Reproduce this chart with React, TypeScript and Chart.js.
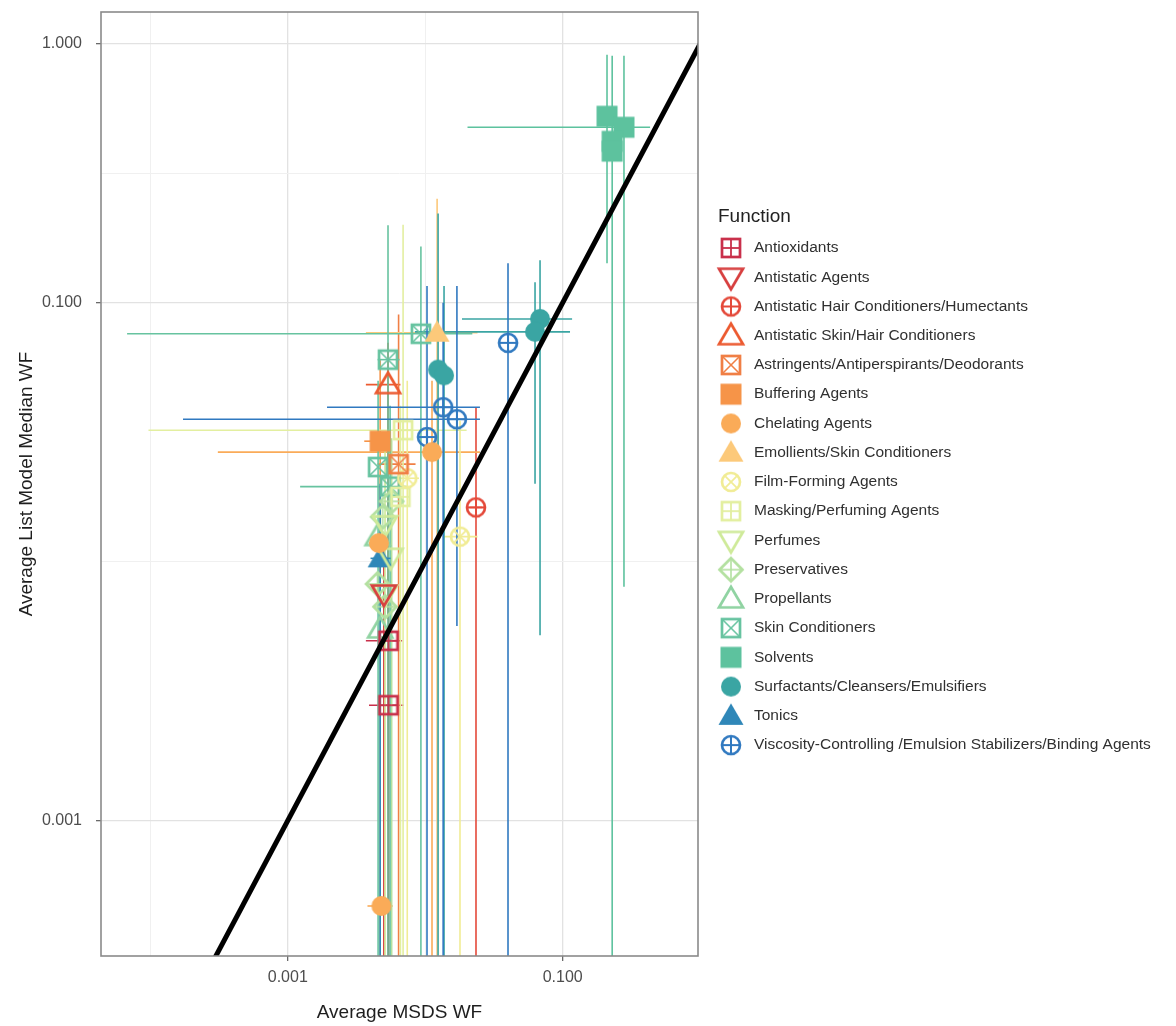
import React, { useEffect, useRef } from 'react';
import { Chart, registerables } from 'chart.js';

Chart.register(...registerables);

type Pt = { x: number; y: number; xMin?: number; xMax?: number; yMin?: number; yMax?: number };

// ---------------- data ----------------
const FUNCTIONS = [
  'Antioxidants',
  'Antistatic Agents',
  'Antistatic Hair Conditioners/Humectants',
  'Antistatic Skin/Hair Conditioners',
  'Astringents/Antiperspirants/Deodorants',
  'Buffering Agents',
  'Chelating Agents',
  'Emollients/Skin Conditioners',
  'Film-Forming Agents',
  'Masking/Perfuming Agents',
  'Perfumes',
  'Preservatives',
  'Propellants',
  'Skin Conditioners',
  'Solvents',
  'Surfactants/Cleansers/Emulsifiers',
  'Tonics',
  'Viscosity-Controlling /Emulsion Stabilizers/Binding Agents',
];

const COLORS = [
  '#C9304B', '#D73F3F', '#E4493A', '#EC5A30', '#F07F45', '#F69448',
  '#FAAB58', '#FCC97A', '#F1EC95', '#E3EFA0', '#CFEA9A', '#B3E0A0',
  '#90D3A2', '#67C3A0', '#5DC29E', '#3AA5A3', '#2F87B8', '#3079C0',
];

const SHAPES = [
  'squarePlus', 'triDown', 'circlePlus', 'triUp', 'squareCross', 'square',
  'circle', 'triFilled', 'circleCross', 'squarePlus', 'triDown', 'diamondPlus',
  'triUp', 'squareCross', 'square', 'circle', 'triFilled', 'circlePlus',
];

const antioxidants: Pt[] = [
  { x: 0.0054, y: 0.00495, xMin: 0.0037, xMax: 0.0068, yMin: 0.00001, yMax: 0.0078 },
  { x: 0.0054, y: 0.00279, xMin: 0.0039, xMax: 0.0070, yMin: 0.00001, yMax: 0.0045 },
];
const antistaticAgents: Pt[] = [
  { x: 0.0050, y: 0.0075, yMin: 0.00001, yMax: 0.011 },
];
const antistaticHair: Pt[] = [
  { x: 0.0234, y: 0.0162, xMin: 0.021, xMax: 0.026, yMin: 0.00001, yMax: 0.0395 },
];
const antistaticSkin: Pt[] = [
  { x: 0.00536, y: 0.0483, xMin: 0.0037, xMax: 0.0066, yMin: 0.006, yMax: 0.07 },
];
const astringents: Pt[] = [
  { x: 0.0064, y: 0.0238, xMin: 0.0045, xMax: 0.0085, yMin: 0.00001, yMax: 0.09 },
];
const buffering: Pt[] = [
  { x: 0.0047, y: 0.0292, xMin: 0.0036, xMax: 0.0052, yMin: 0.00001, yMax: 0.06 },
];
const chelating: Pt[] = [
  { x: 0.0112, y: 0.0265, xMin: 0.00031, xMax: 0.025, yMin: 0.00001, yMax: 0.05 },
  { x: 0.0046, y: 0.0118, xMin: 0.0039, xMax: 0.0055 },
  { x: 0.0048, y: 0.000468, xMin: 0.0038, xMax: 0.0058 },
];
const emollients: Pt[] = [
  { x: 0.0122, y: 0.0766, xMin: 0.0037, xMax: 0.024, yMin: 0.00001, yMax: 0.252 },
];
const filmForming: Pt[] = [
  { x: 0.0179, y: 0.0125, xMin: 0.0135, xMax: 0.024, yMin: 0.00001, yMax: 0.035 },
  { x: 0.0074, y: 0.021, xMin: 0.006, xMax: 0.009, yMin: 0.00001, yMax: 0.05 },
];
const masking: Pt[] = [
  { x: 0.0069, y: 0.0322, xMin: 0.000097, xMax: 0.02, yMin: 0.00001, yMax: 0.2 },
  { x: 0.0066, y: 0.0178, yMin: 0.00001, yMax: 0.04 },
];
const perfumes: Pt[] = [
  { x: 0.0051, y: 0.0139, yMin: 0.00001, yMax: 0.03 },
  { x: 0.0056, y: 0.0104 },
  { x: 0.0051, y: 0.0075 },
];
const preservatives: Pt[] = [
  { x: 0.0049, y: 0.0149 },
  { x: 0.0057, y: 0.0171, yMin: 0.00001, yMax: 0.03 },
  { x: 0.0045, y: 0.0082 },
  { x: 0.0051, y: 0.0067 },
];
const propellants: Pt[] = [
  { x: 0.0045, y: 0.0125 },
  { x: 0.0047, y: 0.0055, yMin: 0.00001, yMax: 0.009 },
];
const skinConditioners: Pt[] = [
  { x: 0.0093, y: 0.0759, xMin: 0.0000678, xMax: 0.022, yMin: 0.00001, yMax: 0.165 },
  { x: 0.00536, y: 0.0603, xMin: 0.0045, xMax: 0.0065, yMin: 0.00001, yMax: 0.199 },
  { x: 0.00454, y: 0.0232, yMin: 0.00001, yMax: 0.05 },
  { x: 0.00555, y: 0.0195, xMin: 0.00123, xMax: 0.0073, yMin: 0.00001, yMax: 0.04 },
];
const solvents: Pt[] = [
  { x: 0.21, y: 0.525, xMin: 0.19, xMax: 0.23, yMin: 0.142, yMax: 0.907 },
  { x: 0.279, y: 0.476, xMin: 0.0203, xMax: 0.432, yMin: 0.008, yMax: 0.90 },
  { x: 0.229, y: 0.42, yMin: 0.00001, yMax: 0.90 },
  { x: 0.229, y: 0.385 },
];
const surfactants: Pt[] = [
  { x: 0.0684, y: 0.0866, xMin: 0.0185, xMax: 0.117, yMin: 0.0052, yMax: 0.146 },
  { x: 0.0629, y: 0.0772, xMin: 0.0084, xMax: 0.113, yMin: 0.02, yMax: 0.12 },
  { x: 0.0124, y: 0.0552, yMin: 0.00001, yMax: 0.221 },
  { x: 0.0137, y: 0.0524, yMin: 0.00001, yMax: 0.116 },
];
const tonics: Pt[] = [
  { x: 0.0047, y: 0.0103, xMin: 0.004, xMax: 0.0056, yMin: 0.00001, yMax: 0.02 },
];
const viscosity: Pt[] = [
  { x: 0.040, y: 0.070, yMin: 0.00001, yMax: 0.142 },
  { x: 0.0135, y: 0.0395, xMin: 0.00193, xMax: 0.025, yMin: 0.00001, yMax: 0.1 },
  { x: 0.017, y: 0.0355, xMin: 0.000173, xMax: 0.025, yMin: 0.00565, yMax: 0.116 },
  { x: 0.0103, y: 0.0303, yMin: 0.00001, yMax: 0.116 },
];

const SERIES: Pt[][] = [
  antioxidants, antistaticAgents, antistaticHair, antistaticSkin, astringents,
  buffering, chelating, emollients, filmForming, masking, perfumes, preservatives,
  propellants, skinConditioners, solvents, surfactants, tonics, viscosity,
];

const IDENTITY_LINE = [0.0002, 1.2];

const X_RANGE = [0.0000438, 0.964];
const Y_RANGE = [0.000318, 1.327];
const X_GRID = [0.0001, 0.001, 0.01, 0.1];
const X_LABELED = [0.001, 0.1];
const Y_GRID = [0.001, 0.01, 0.1, 0.3162, 1];
const Y_LABELED = [0.001, 0.1, 1];

const X_TITLE = 'Average MSDS WF';
const Y_TITLE = 'Average List Model Median WF';
const LEGEND_TITLE = 'Function';

// ---------------- drawing helpers ----------------
const FONT = '"Liberation Sans", Arial, Helvetica, sans-serif';

function makeMarker(shape: string, color: string): HTMLCanvasElement {
  const S = 32;
  const c = document.createElement('canvas');
  c.width = S;
  c.height = S;
  const g = c.getContext('2d') as CanvasRenderingContext2D;
  g.strokeStyle = color;
  g.fillStyle = color;
  g.lineWidth = 2.7;
  const m = S / 2;
  const line = (a: number, b: number, cc: number, d: number) => {
    g.beginPath();
    g.moveTo(a, b);
    g.lineTo(cc, d);
    g.stroke();
  };
  const h = 9;
  switch (shape) {
    case 'squarePlus':
      g.strokeRect(m - h, m - h, 2 * h, 2 * h);
      g.lineWidth = 1.8;
      line(m - h, m, m + h, m);
      line(m, m - h, m, m + h);
      break;
    case 'squareCross':
      g.strokeRect(m - h, m - h, 2 * h, 2 * h);
      g.lineWidth = 1.6;
      line(m - h, m - h, m + h, m + h);
      line(m - h, m + h, m + h, m - h);
      break;
    case 'square':
      g.fillRect(m - 10.5, m - 10.5, 21, 21);
      break;
    case 'circle':
      g.beginPath();
      g.arc(m, m, 10, 0, Math.PI * 2);
      g.fill();
      break;
    case 'circlePlus':
      g.beginPath();
      g.arc(m, m, 9, 0, Math.PI * 2);
      g.stroke();
      g.lineWidth = 2;
      line(m - 9, m, m + 9, m);
      line(m, m - 9, m, m + 9);
      break;
    case 'circleCross': {
      g.beginPath();
      g.arc(m, m, 9, 0, Math.PI * 2);
      g.stroke();
      g.lineWidth = 1.8;
      const d = 9 * Math.SQRT1_2;
      line(m - d, m - d, m + d, m + d);
      line(m - d, m + d, m + d, m - d);
      break;
    }
    case 'triUp':
      g.beginPath();
      g.moveTo(m - 12, m + 8.5);
      g.lineTo(m + 12, m + 8.5);
      g.lineTo(m, m - 12);
      g.closePath();
      g.stroke();
      break;
    case 'triDown':
      g.beginPath();
      g.moveTo(m - 12, m - 8.5);
      g.lineTo(m + 12, m - 8.5);
      g.lineTo(m, m + 12);
      g.closePath();
      g.stroke();
      break;
    case 'triFilled':
      g.beginPath();
      g.moveTo(m - 12.5, m + 9);
      g.lineTo(m + 12.5, m + 9);
      g.lineTo(m, m - 12.5);
      g.closePath();
      g.fill();
      break;
    case 'diamondPlus': {
      const r = 11.5;
      g.beginPath();
      g.moveTo(m, m - r);
      g.lineTo(m + r, m);
      g.lineTo(m, m + r);
      g.lineTo(m - r, m);
      g.closePath();
      g.stroke();
      g.lineWidth = 1.6;
      line(m - r, m, m + r, m);
      line(m, m - r, m, m + r);
      break;
    }
    default:
      break;
  }
  return c;
}

const errorBarPlugin = {
  id: 'errorBars',
  beforeDatasetsDraw(chart: any) {
    const { ctx, chartArea, scales } = chart;
    const xs = scales.x;
    const ys = scales.y;
    ctx.save();
    ctx.beginPath();
    ctx.rect(chartArea.left, chartArea.top, chartArea.right - chartArea.left, chartArea.bottom - chartArea.top);
    ctx.clip();
    ctx.lineWidth = 1.6;
    SERIES.forEach((pts, i) => {
      ctx.strokeStyle = COLORS[i];
      pts.forEach((p) => {
        const px = xs.getPixelForValue(p.x);
        const py = ys.getPixelForValue(p.y);
        if (p.xMin !== undefined && p.xMax !== undefined) {
          ctx.beginPath();
          ctx.moveTo(xs.getPixelForValue(p.xMin), py);
          ctx.lineTo(xs.getPixelForValue(p.xMax), py);
          ctx.stroke();
        }
        if (p.yMin !== undefined && p.yMax !== undefined) {
          ctx.beginPath();
          ctx.moveTo(px, ys.getPixelForValue(p.yMin));
          ctx.lineTo(px, ys.getPixelForValue(p.yMax));
          ctx.stroke();
        }
      });
    });
    ctx.restore();
  },
};

const framePlugin = {
  id: 'panelFrame',
  afterDraw(chart: any) {
    const { ctx, chartArea } = chart;
    ctx.save();
    ctx.strokeStyle = '#8A8A8A';
    ctx.lineWidth = 1.6;
    ctx.strokeRect(chartArea.left, chartArea.top, chartArea.right - chartArea.left, chartArea.bottom - chartArea.top);
    ctx.restore();
  },
};

function makeLegendPlugin(markers: HTMLCanvasElement[]) {
  return {
    id: 'functionLegend',
    afterDraw(chart: any) {
      const ctx = chart.ctx;
      ctx.save();
      ctx.textBaseline = 'middle';
      ctx.textAlign = 'left';
      ctx.fillStyle = '#222222';
      ctx.font = `19px ${FONT}`;
      ctx.fillText(LEGEND_TITLE, 718, 217);
      ctx.font = `15.5px ${FONT}`;
      ctx.fillStyle = '#303030';
      FUNCTIONS.forEach((name, i) => {
        const y = 248 + i * 29.24;
        const mk = markers[i];
        ctx.drawImage(mk, 731 - mk.width / 2, y - mk.height / 2);
        ctx.fillText(name, 754, y);
      });
      ctx.restore();
    },
  };
}

const near = (a: number, list: number[]) => list.some((v) => Math.abs(v - a) / v < 1e-6);

export default function App() {
  const ref = useRef<HTMLCanvasElement | null>(null);

  useEffect(() => {
    if (!ref.current) return;
    const markers = FUNCTIONS.map((_, i) => makeMarker(SHAPES[i], COLORS[i]));

    const datasets: any[] = SERIES.map((pts, i) => ({
      label: FUNCTIONS[i],
      data: pts.map((p) => ({ x: p.x, y: p.y })),
      pointStyle: markers[i],
      pointRadius: 10,
      pointHoverRadius: 10,
      showLine: false,
      order: 2,
    }));
    datasets.push({
      label: 'y = x',
      data: IDENTITY_LINE.map((v) => ({ x: v, y: v })),
      showLine: true,
      borderColor: '#000000',
      borderWidth: 5,
      pointRadius: 0,
      order: 0,
    });

    const gridColor = (c: any, list: number[]) =>
      c.tick && near(c.tick.value, list) ? '#E2E2E2' : '#F0F0F0';
    const gridWidth = (c: any, list: number[]) =>
      c.tick && near(c.tick.value, list) ? 1.3 : 1.0;
    const tickColor = (c: any, list: number[]) =>
      c.tick && near(c.tick.value, list) ? '#6A6A6A' : 'rgba(0,0,0,0)';

    const chart = new Chart(ref.current, {
      type: 'scatter',
      data: { datasets },
      options: {
        responsive: false,
        animation: false,
        devicePixelRatio: 1,
        layout: { padding: { top: 12, right: 478, bottom: 0, left: 0 } },
        plugins: {
          legend: { display: false },
          tooltip: { enabled: false },
        },
        scales: {
          x: {
            type: 'logarithmic',
            min: X_RANGE[0],
            max: X_RANGE[1],
            afterBuildTicks: (scale: any) => {
              scale.ticks = X_GRID.map((v) => ({ value: v }));
            },
            afterFit: (scale: any) => {
              scale.height = 70;
              scale.paddingLeft = 0;
              scale.paddingRight = 0;
              scale.paddingTop = 0;
              scale.paddingBottom = 0;
            },
            ticks: {
              autoSkip: false,
              maxRotation: 0,
              padding: 7,
              color: '#4D4D4D',
              font: { family: FONT, size: 16 },
              callback: (v: any) => (near(Number(v), X_LABELED) ? Number(v).toFixed(3) : ''),
            },
            grid: {
              color: (c: any) => gridColor(c, X_LABELED),
              lineWidth: (c: any) => gridWidth(c, X_LABELED),
              tickColor: (c: any) => tickColor(c, X_LABELED),
              tickLength: 5,
              tickWidth: 1.3,
            },
            border: { display: false },
            title: {
              display: true,
              text: X_TITLE,
              color: '#1E1E1E',
              font: { family: FONT, size: 19, lineHeight: 1 },
              padding: { top: 0, bottom: 3.5 },
            },
          },
          y: {
            type: 'logarithmic',
            min: Y_RANGE[0],
            max: Y_RANGE[1],
            afterBuildTicks: (scale: any) => {
              scale.ticks = Y_GRID.map((v) => ({ value: v }));
            },
            afterFit: (scale: any) => {
              scale.width = 101;
              scale.paddingLeft = 0;
              scale.paddingRight = 0;
              scale.paddingTop = 0;
              scale.paddingBottom = 0;
            },
            ticks: {
              autoSkip: false,
              padding: 14,
              color: '#4D4D4D',
              font: { family: FONT, size: 16 },
              callback: (v: any) => (near(Number(v), Y_LABELED) ? Number(v).toFixed(3) : ''),
            },
            grid: {
              color: (c: any) => gridColor(c, Y_LABELED),
              lineWidth: (c: any) => gridWidth(c, Y_LABELED),
              tickColor: (c: any) => tickColor(c, Y_LABELED),
              tickLength: 5,
              tickWidth: 1.3,
            },
            border: { display: false },
            title: {
              display: true,
              text: Y_TITLE,
              color: '#1E1E1E',
              font: { family: FONT, size: 19, lineHeight: 1 },
              padding: { top: 17.5, bottom: 0 },
            },
          },
        },
      } as any,
      plugins: [errorBarPlugin, framePlugin, makeLegendPlugin(markers)],
    });

    return () => {
      chart.destroy();
    };
  }, []);

  return (
    <div style={{ position: 'absolute', left: 0, top: 0, width: 1176, height: 1026, background: '#ffffff' }}>
      <canvas ref={ref} width={1176} height={1026} style={{ width: 1176, height: 1026 }} />
    </div>
  );
}
